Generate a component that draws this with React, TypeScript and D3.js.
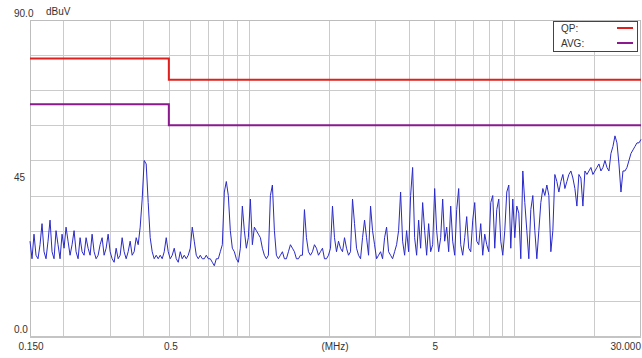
import * as d3 from "d3";

// sweep range (MHz) and level range (dBuV)
const freqStart = 0.15;
const freqStop = 30;
const levelMin = 0;
const levelMax = 90;

const xTickLabels = ["0.150", "0.5", "5", "30.000"];
const xTickValues = [0.15, 0.5, 5, 30];
const yTickLabels = ["90.0", "45", "0.0"];
const yTickValues = [90, 45, 0];

// CISPR limits: [from MHz, to MHz, dBuV]
const qpLimit: [number, number, number][] = [
  [0.15, 0.5, 79],
  [0.5, 30, 73],
];
const avgLimit: [number, number, number][] = [
  [0.15, 0.5, 66],
  [0.5, 30, 60],
];

// measured trace, log-spaced sweep points from 0.15 to 30 MHz
const trace = [
  27, 22, 29, 23, 22, 26, 32, 24, 22, 27, 33, 24, 22, 30, 26, 22, 29, 25, 31, 27,
  23, 26, 30, 24, 22, 28, 24, 23, 28, 25, 23, 29, 24, 22, 23, 26, 28, 23, 25, 29,
  24, 22, 21, 25, 22, 23, 28, 24, 22, 24, 27, 23, 24, 28, 26, 31, 39, 50, 49, 38,
  28, 24, 22,
  23, 22, 23, 22, 24, 28, 24, 22, 23, 25, 22, 21, 24, 22, 23, 22, 23, 25, 31, 27,
  23, 22, 23, 22, 22, 23, 22, 22, 21, 20, 22, 22, 24, 26, 41, 44, 40, 30, 25, 24,
  22, 21, 25, 37, 30, 25, 28, 39, 26, 31, 30, 29, 28, 25, 23, 22, 23, 40, 43, 30,
  23,
  22, 23, 24, 22, 22, 24, 26, 25, 24, 22, 22, 23, 23, 36, 28, 24, 23, 24, 26, 25,
  23, 24, 25, 22, 22, 23, 25, 37, 28, 24, 27, 25, 24, 28, 25, 23, 24, 39, 32, 25,
  23, 22, 28, 33, 28, 23, 37, 30, 26, 22, 23, 24, 22, 28, 31, 24, 23, 22, 24, 26,
  30, 41, 27, 23, 30, 24, 40, 48, 28, 23, 33, 25, 38, 30, 23, 32, 24, 26, 42, 30,
  24, 28, 39, 27, 31, 24, 37, 27, 23, 36, 42, 26, 23, 28, 34, 25, 24, 33, 38, 27,
  26, 32, 23, 29, 26, 24, 38, 40, 25, 36, 39, 27, 23, 30, 41, 43, 25, 39, 28, 37,
  35,
  22, 47, 38, 30, 22, 36, 40, 30, 22, 30, 38, 42, 40, 43, 40, 24, 30, 46, 44, 41,
  44, 46, 42, 44, 46, 47, 45, 42, 37, 46, 45, 37, 47, 46, 47, 48, 46, 47, 48, 49,
  47, 48, 50, 48, 47, 52, 54, 57, 55, 49, 41, 47, 47, 48, 50, 52, 53, 54, 55, 55,
  56,
];

const W = 642;
const H = 358;
const plot = { left: 30, right: 641, top: 20, bottom: 336 };
const font = "'Liberation Sans', Arial, sans-serif";

export default function App() {
  const x = d3.scaleLog().domain([freqStart, freqStop]).range([plot.left, plot.right]);
  const y = d3.scaleLinear().domain([levelMin, levelMax]).range([plot.bottom, plot.top]);

  // sweep points are spread evenly on the log frequency axis
  const n = trace.length;
  const points: [number, number][] = trace.map((v, i) => [
    freqStart * Math.pow(freqStop / freqStart, i / (n - 1)),
    v,
  ]);

  const line = d3
    .line<[number, number]>()
    .x((d) => x(d[0]))
    .y((d) => y(d[1]));

  const limitPath = (segs: [number, number, number][]) => {
    const pts: [number, number][] = [];
    segs.forEach((s) => {
      pts.push([s[0], s[2]]);
      pts.push([s[1], s[2]]);
    });
    return line(pts) ?? "";
  };

  // log grid: 1..9 per decade
  const vGrid: number[] = [];
  for (let dec = 0.1; dec <= 10; dec *= 10) {
    for (let k = 1; k <= 9; k++) {
      const f = +(k * dec).toPrecision(3);
      if (f > freqStart && f < freqStop) vGrid.push(f);
    }
  }
  const hGrid = d3.range(levelMin + 10, levelMax, 10);

  const xLabelPos = (f: number, i: number) => {
    if (i === xTickValues.length - 1) return { x: W - 1, anchor: "end" };
    return { x: x(f) + (i === 1 ? 2 : 1), anchor: "middle" };
  };

  return (
    <svg
      width={W}
      height={H}
      style={{ position: "absolute", left: 0, top: 0, background: "#fff" }}
    >
      <g stroke="#cbcbcb" strokeWidth={1}>
        {vGrid.map((f) => (
          <line key={"v" + f} x1={Math.round(x(f)) + 0.5} x2={Math.round(x(f)) + 0.5} y1={plot.top} y2={plot.bottom} />
        ))}
        {hGrid.map((v) => (
          <line key={"h" + v} x1={plot.left} x2={plot.right} y1={Math.round(y(v)) + 0.5} y2={Math.round(y(v)) + 0.5} />
        ))}
      </g>
      <rect
        x={plot.left + 0.5}
        y={plot.top + 0.5}
        width={plot.right - plot.left - 1}
        height={plot.bottom - plot.top}
        fill="none"
        stroke="#bdbdbd"
      />
      <line x1={plot.left} x2={plot.right} y1={plot.bottom + 1} y2={plot.bottom + 1} stroke="#c4c4c4" strokeWidth={2} />

      <path d={line(points) ?? ""} fill="none" stroke="#2a2ac8" strokeWidth={1} strokeLinejoin="round" />
      <path d={limitPath(qpLimit)} fill="none" stroke="#e0201c" strokeWidth={2} />
      <path d={limitPath(avgLimit)} fill="none" stroke="#8a1a8e" strokeWidth={2} />

      <g fontFamily={font} fontSize={10} fill="#333">
        {yTickValues.map((v, i) => (
          <text key={"yl" + v} x={14} y={v === 45 ? y(v) + 2.5 : y(v) - 3}>
            {yTickLabels[i]}
          </text>
        ))}
        <text x={46} y={15}>dBuV</text>
        {xTickValues.map((f, i) => {
          const p = xLabelPos(f, i);
          return (
            <text key={"xl" + f} x={p.x} y={350} textAnchor={p.anchor}>
              {xTickLabels[i]}
            </text>
          );
        })}
        <text x={335} y={350} textAnchor="middle">(MHz)</text>
      </g>

      <g>
        <rect x={553.5} y={21.5} width={84} height={30} fill="#fff" stroke="#444" />
        <text x={561} y={31.5} fontFamily={font} fontSize={10} fill="#333">QP:</text>
        <text x={561} y={46.5} fontFamily={font} fontSize={10} fill="#333">AVG:</text>
        <line x1={617} x2={633} y1={28} y2={28} stroke="#e0201c" strokeWidth={2} />
        <line x1={617} x2={633} y1={43} y2={43} stroke="#8a1a8e" strokeWidth={2} />
      </g>
    </svg>
  );
}
